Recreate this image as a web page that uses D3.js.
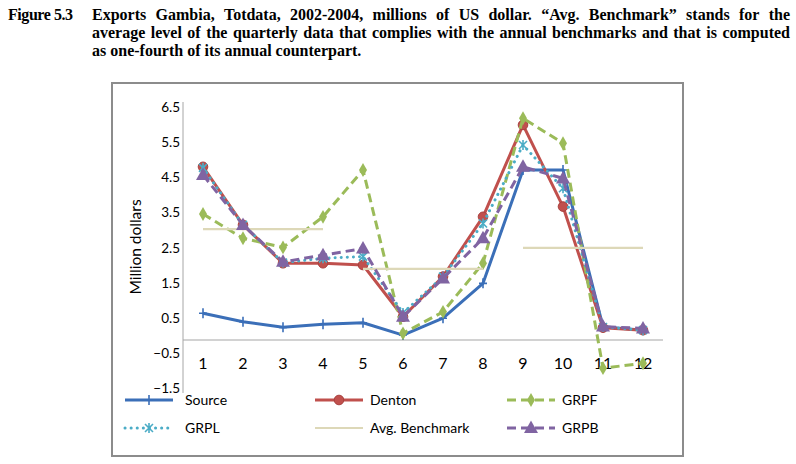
<!DOCTYPE html>
<html>
<head>
<meta charset="utf-8">
<script src="https://cdn.jsdelivr.net/npm/d3@7"></script>
<style>
  body { margin: 0; background: #fff; }
  svg { display: block; }
</style>
</head>
<body>
<div id="chart"></div>
<script>
// Data (quarters 2002Q1 - 2004Q4)
const quarters = [1, 2, 3, 4, 5, 6, 7, 8, 9, 10, 11, 12];
const source    = [0.76, 0.52, 0.36, 0.45, 0.49, 0.14, 0.62, 1.61, 4.83, 4.83, 0.38, 0.28];
const denton    = [4.92, 3.27, 2.18, 2.18, 2.13, 0.66, 1.80, 3.50, 6.11, 3.79, 0.35, 0.28];
const grpf      = [3.58, 2.89, 2.63, 3.50, 4.83, 0.19, 0.80, 2.18, 6.30, 5.59, -0.80, -0.66];
const grpl      = [4.89, 3.27, 2.20, 2.32, 2.37, 0.77, 1.80, 3.31, 5.54, 4.31, 0.37, 0.28];
const benchmark = [3.15, 3.15, 3.15, 3.15, 2.02, 2.02, 2.02, 2.02, 2.62, 2.62, 2.62, 2.62];
const grpb      = [4.69, 3.27, 2.22, 2.41, 2.60, 0.66, 1.75, 2.89, 4.92, 4.59, 0.38, 0.33];
const yTicks = [-1.5, -0.5, 0.5, 1.5, 2.5, 3.5, 4.5, 5.5, 6.5];

const titleLines = [
  "Exports Gambia, Totdata, 2002-2004, millions of US dollar. \u201cAvg. Benchmark\u201d stands for the",
  "average level of the quarterly data that complies with the annual benchmarks and that is computed",
  "as one-fourth of its annual counterpart."
];

const W = 796, H = 464;
const svg = d3.select("#chart").append("svg")
  .attr("width", W).attr("height", H);

// ---- caption (justified like the document)
const cap = svg.append("g")
  .style("font-family", "'Liberation Serif', 'Times New Roman', serif")
  .style("font-weight", "bold")
  .style("font-size", "16px")
  .attr("fill", "#000");

cap.append("text").attr("x", 8).attr("y", 20).attr("textLength", 65).text("Figure 5.3");

function justify(line, y, x0, x1, full) {
  const words = line.split(" ");
  const nodes = words.map(w => cap.append("text").attr("y", y).text(w));
  const widths = nodes.map(n => n.node().getComputedTextLength());
  const total = d3.sum(widths);
  const space = full ? Math.max(2, (x1 - x0 - total) / (words.length - 1)) : 4;
  let x = x0;
  nodes.forEach((n, i) => { n.attr("x", x); x += widths[i] + space; });
}
justify(titleLines[0], 20, 92, 790, true);
justify(titleLines[1], 38, 92, 790, true);
justify(titleLines[2], 56, 92, 790, false);

// ---- chart frame
svg.append("rect")
  .attr("x", 112).attr("y", 83).attr("width", 571).attr("height", 373)
  .attr("fill", "#fff").attr("stroke", "#8c8c8c").attr("stroke-width", 2);

// ---- scales
const x = d3.scaleBand().domain(quarters).range([183, 663]);
const xc = q => x(q) + x.bandwidth() / 2;
const y = d3.scaleLinear().domain([-1.5, 6.5]).range([392.8, 111.2]);

const font = "Lato, 'Noto Sans', sans-serif";

// y axis
const yAxis = svg.append("g")
  .attr("transform", "translate(183,0)")
  .call(d3.axisLeft(y).tickValues(yTicks).tickSize(0).tickPadding(3).tickFormat(d3.format(".1f")));
yAxis.select(".domain").attr("stroke", "#a6a6a6").attr("d", "M0,102V393");
yAxis.selectAll("text")
  .attr("dy", null)
  .style("font-family", font).style("font-size", "13.5px").attr("fill", "#000");

// horizontal axis at zero
svg.append("line")
  .attr("x1", 183).attr("x2", 663)
  .attr("y1", y(0)).attr("y2", y(0))
  .attr("stroke", "#a6a6a6").attr("stroke-width", 1.2);

svg.append("g").selectAll("text")
  .data(quarters)
  .join("text")
  .attr("x", d => xc(d))
  .attr("y", 369)
  .attr("text-anchor", "middle")
  .style("font-family", font).style("font-size", "16px")
  .text(d => d);

// y title
svg.append("text")
  .attr("transform", "translate(141,247) rotate(-90)")
  .attr("text-anchor", "middle")
  .style("font-family", font).style("font-size", "15.5px")
  .text("Million dollars");

// ---- marker shapes
function drawMarker(g, type, cx, cy, color) {
  if (type === "plus") {
    g.append("path").attr("d", `M${cx - 4},${cy}H${cx + 4}M${cx},${cy - 5}V${cy + 5}`)
      .attr("stroke", color).attr("stroke-width", 1.6).attr("fill", "none");
  } else if (type === "circle") {
    g.append("circle").attr("cx", cx).attr("cy", cy).attr("r", 4.8)
      .attr("fill", color).attr("stroke", "#a8403e").attr("stroke-width", 1);
  } else if (type === "diamond") {
    g.append("path").attr("d", d3.symbol(d3.symbolDiamond, 55)())
      .attr("transform", `translate(${cx},${cy})`)
      .attr("fill", color);
  } else if (type === "star") {
    g.append("path").attr("d", `M${cx - 4},${cy - 4}L${cx + 4},${cy + 4}M${cx + 4},${cy - 4}L${cx - 4},${cy + 4}M${cx},${cy - 5}V${cy + 5}`)
      .attr("stroke", color).attr("stroke-width", 1.6).attr("fill", "none");
  } else if (type === "triangle") {
    g.append("path").attr("d", `M${cx},${cy - 7.5}L${cx + 7},${cy + 5}L${cx - 7},${cy + 5}Z`)
      .attr("fill", color);
  }
}

const series = [
  { name: "Source", values: source, color: "#3b6fb8", dash: null, marker: "plus" },
  { name: "Denton", values: denton, color: "#c0504d", dash: null, marker: "circle" },
  { name: "GRPF", values: grpf, color: "#9bbb59", dash: "9,5", marker: "diamond" },
  { name: "GRPL", values: grpl, color: "#4bacc6", dash: "0.1,6", marker: "star" },
  { name: "Avg. Benchmark", values: benchmark, color: "#ddd8b8", dash: null, marker: null, yearly: true },
  { name: "GRPB", values: grpb, color: "#8064a2", dash: "9,5", marker: "triangle" }
];

const line = d3.line().x(d => xc(d.q)).y(d => y(d.v));

series.forEach(s => {
  const g = svg.append("g");
  const pts = quarters.map((q, i) => ({ q, v: s.values[i] }));
  const segs = s.yearly ? d3.groups(pts, d => Math.floor((d.q - 1) / 4)).map(d => d[1]) : [pts];
  segs.forEach(seg => {
    g.append("path")
      .attr("d", line(seg))
      .attr("fill", "none")
      .attr("stroke", s.color)
      .attr("stroke-width", s.yearly ? 2.2 : 3)
      .attr("stroke-linejoin", "round")
      .attr("stroke-linecap", s.dash === "0.1,6" ? "round" : "butt")
      .attr("stroke-dasharray", s.dash);
  });
  if (s.marker) pts.forEach(p => drawMarker(g, s.marker, xc(p.q), y(p.v), s.color));
});

// ---- legend
const legX = [125, 315, 507];
const legY = [400, 428];
series.forEach((s, i) => {
  const lx = legX[i % 3], ly = legY[Math.floor(i / 3)];
  const g = svg.append("g");
  g.append("line")
    .attr("x1", lx).attr("x2", lx + 48).attr("y1", ly).attr("y2", ly)
    .attr("stroke", s.color)
    .attr("stroke-width", s.yearly ? 2.2 : 3)
    .attr("stroke-linecap", s.dash === "0.1,6" ? "round" : "butt")
    .attr("stroke-dasharray", s.dash);
  if (s.marker) drawMarker(g, s.marker, lx + 24, ly, s.color);
  g.append("text")
    .attr("x", lx + (i % 3 === 0 ? 60 : 55))
    .attr("y", ly + 5)
    .style("font-family", font).style("font-size", "14px")
    .text(s.name);
});
</script>
</body>
</html>
